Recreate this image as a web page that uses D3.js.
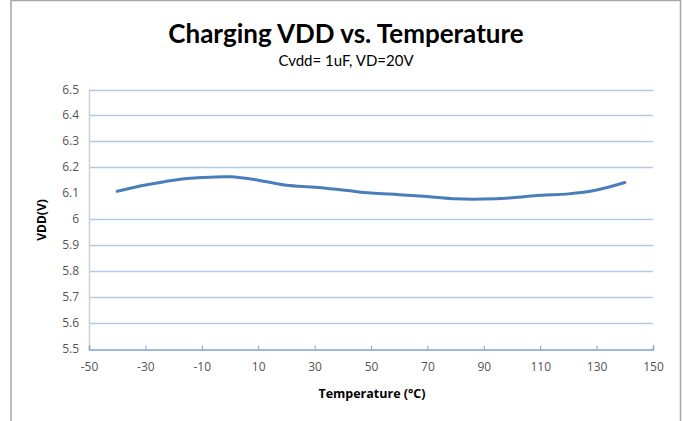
<!DOCTYPE html>
<html>
<head>
<meta charset="utf-8">
<script src="https://cdn.jsdelivr.net/npm/d3@7"></script>
<style>
  body { margin: 0; background: #fff; }
  svg { display: block; font-family: "Open Sans", "Liberation Sans", sans-serif; }
</style>
</head>
<body>
<div id="chart"></div>
<script>
// Data
const temps = [-40, -30, -20, -10, 0, 10, 20, 30, 40, 50, 60, 70, 80, 90, 100, 110, 120, 130, 140];
const vdd = [6.107, 6.131, 6.150, 6.160, 6.163, 6.150, 6.130, 6.123, 6.112, 6.100, 6.094, 6.087, 6.078, 6.077, 6.082, 6.092, 6.097, 6.112, 6.141];
const xTicks = [-50, -30, -10, 10, 30, 50, 70, 90, 110, 130, 150];
const yTicks = [5.5, 5.6, 5.7, 5.8, 5.9, 6, 6.1, 6.2, 6.3, 6.4, 6.5];
const gridValues = [5.6, 5.7, 5.8, 5.9, 6, 6.2, 6.3, 6.4, 6.5];

const width = 683;
const height = 421;

const svg = d3.select('#chart')
    .append('svg')
    .attr('width', width)
    .attr('height', height);

// outer frame
svg.append('path')
    .attr('d', `M11,${height} V0.5 H680.5 V${height}`)
    .attr('fill', 'none')
    .attr('stroke', '#a6a6a6')
    .attr('stroke-width', 1.5);

const x = d3.scaleLinear().domain([-50, 150]).range([89, 653]);
const y = d3.scaleLinear().domain([5.5, 6.5]).range([348.5, 89.5]);

// gridlines
svg.append('g')
    .selectAll('line')
    .data(gridValues)
    .enter()
    .append('line')
    .attr('x1', x(-50))
    .attr('x2', x(150))
    .attr('y1', d => Math.round(y(d)) + 0.5)
    .attr('y2', d => Math.round(y(d)) + 0.5)
    .attr('stroke', '#b4c9e8')
    .attr('stroke-width', 1.5);

// left axis line
svg.append('line')
    .attr('x1', 89.5).attr('x2', 89.5)
    .attr('y1', y(6.5)).attr('y2', y(5.5))
    .attr('stroke', '#d0d0d0')
    .attr('stroke-width', 1.5);

// y tick labels
svg.append('g')
    .selectAll('text')
    .data(yTicks)
    .enter()
    .append('text')
    .attr('x', 79)
    .attr('y', d => y(d) + 4)
    .attr('text-anchor', 'end')
    .attr('font-size', 12)
    .attr('fill', '#555')
    .text(d => String(d));

// bottom axis
const xAxis = d3.axisBottom(x)
    .tickValues(xTicks)
    .tickFormat(d => String(d))
    .tickSize(-4)
    .tickPadding(13)
    .tickSizeOuter(-4);

const gx = svg.append('g')
    .attr('transform', `translate(0,${Math.round(y(5.5)) + 0.5})`)
    .call(xAxis);
gx.select('.domain').attr('stroke', '#7ea3d6').attr('stroke-width', 1.5);
gx.selectAll('.tick line').attr('stroke', '#7ea3d6');
gx.selectAll('.tick text')
    .attr('font-size', 12)
    .attr('font-family', '"Open Sans", sans-serif')
    .attr('fill', '#555');

// data line
const line = d3.line()
    .x((d, i) => x(temps[i]))
    .y(d => y(d))
    .curve(d3.curveCatmullRom);

svg.append('path')
    .datum(vdd)
    .attr('d', line)
    .attr('fill', 'none')
    .attr('stroke', '#4a7ebb')
    .attr('stroke-width', 3)
    .attr('stroke-linecap', 'round');

// titles
svg.append('text')
    .attr('x', 346)
    .attr('y', 43)
    .attr('text-anchor', 'middle')
    .attr('font-size', 26)
    .attr('font-weight', 'bold')
    .attr('font-family', 'Lato, sans-serif')
    .attr('fill', '#000')
    .text('Charging VDD vs. Temperature');

svg.append('text')
    .attr('x', 346)
    .attr('y', 66)
    .attr('text-anchor', 'middle')
    .attr('font-size', 15)
    .attr('font-family', 'Lato, sans-serif')
    .attr('fill', '#000')
    .text('Cvdd= 1uF, VD=20V');

svg.append('text')
    .attr('x', 372)
    .attr('y', 398)
    .attr('text-anchor', 'middle')
    .attr('font-size', 12.5)
    .attr('font-weight', 'bold')
    .attr('fill', '#000')
    .text('Temperature (°C)');

svg.append('text')
    .attr('transform', 'translate(46,220) rotate(-90)')
    .attr('text-anchor', 'middle')
    .attr('font-size', 12)
    .attr('font-weight', 'bold')
    .attr('fill', '#000')
    .text('VDD(V)');
</script>
</body>
</html>
